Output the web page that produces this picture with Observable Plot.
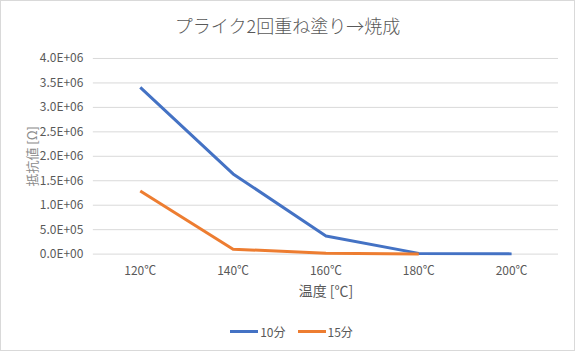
<!DOCTYPE html>
<html>
<head>
<meta charset="utf-8">
<script src="https://cdn.jsdelivr.net/npm/d3@7"></script>
<script src="https://cdn.jsdelivr.net/npm/@observablehq/plot@0.6"></script>
<style>
  html, body { margin: 0; padding: 0; background: #fff; }
  #wrap { position: relative; width: 575px; height: 351px; box-sizing: border-box; border: 1px solid #d9d9d9; overflow: hidden; font-family: "Noto Sans CJK JP", "Noto Sans", sans-serif; }
  #title { position: absolute; left: 0; top: 11px; width: 573px; text-align: center; font-size: 18px; color: #595959; line-height: 26px; font-weight: 300; }
  #chart { position: absolute; left: -1px; top: 39px; }
  #legend { position: absolute; top: 322px; left: 4px; width: 573px; display: flex; justify-content: center; gap: 12px; font-size: 12px; color: #595959; }
  .item { display: flex; align-items: center; }
  .sw { width: 28px; height: 3px; margin-right: 2px; }
</style>
</head>
<body>
<div id="wrap">
  <div id="title">プライク2回重ね塗り→焼成</div>
  <div id="chart"></div>
  <div id="legend"></div>
</div>
<script>
const temps = ["120℃", "140℃", "160℃", "180℃", "200℃"];
const series = ["10分", "15分"];
const values10 = [3.41e6, 1.64e6, 0.37e6, 0.015e6, 0.005e6];
const values15 = [1.29e6, 0.10e6, 0.02e6, 0.002e6];
const yTicks = [0, 5e5, 1e6, 1.5e6, 2e6, 2.5e6, 3e6, 3.5e6, 4e6];
const colors = ["#4472C4", "#ED7D31"];

const data = [
  ...values10.map((v, i) => ({temp: temps[i], value: v, series: series[0]})),
  ...values15.map((v, i) => ({temp: temps[i], value: v, series: series[1]}))
];

function fmt(d) {
  const [m, e] = d.toExponential(1).split("e");
  const sign = e[0] === "-" ? "-" : "+";
  const ex = String(Math.abs(+e)).padStart(2, "0");
  return `${m}E${sign}${ex}`;
}

const chart = Plot.plot({
  width: 575,
  height: 272,
  marginTop: 18,
  marginBottom: 58,
  marginLeft: 93,
  marginRight: 16,
  style: {fontFamily: '"Noto Sans CJK JP", "Noto Sans", sans-serif', fontSize: "12px", color: "#595959", background: "transparent"},
  x: {type: "point", domain: temps, padding: 0.5},
  y: {domain: [0, 4e6], ticks: yTicks},
  color: {domain: series, range: colors},
  marks: [
    Plot.gridY(yTicks, {stroke: "#d9d9d9", strokeOpacity: 1, strokeWidth: 1}),
    Plot.axisY(yTicks, {tickSize: 0, tickPadding: 10, tickFormat: fmt, fill: "#595959", fontSize: 12,
      label: "抵抗値 [Ω]", labelAnchor: "center", labelArrow: "none", labelOffset: 66}),
    Plot.axisX({tickSize: 0, tickPadding: 12, fill: "#595959", fontSize: 12,
      label: "温度 [℃]", labelAnchor: "center", labelArrow: "none", labelOffset: 42}),
    Plot.line(data, {x: "temp", y: "value", z: "series", stroke: "series", strokeWidth: 3, strokeLinejoin: "round", strokeLinecap: "butt"})
  ]
});
document.getElementById("chart").appendChild(chart);

// axis label styling
d3.select(chart).selectAll('[aria-label="y-axis label"] text, [aria-label="y-axis label"]')
  .attr("fill", "#8c8c8c").attr("font-size", 13);
d3.select(chart).selectAll('[aria-label="x-axis label"] text, [aria-label="x-axis label"]')
  .attr("fill", "#595959").attr("font-size", 14);

const legend = document.getElementById("legend");
series.forEach((s, i) => {
  const it = document.createElement("div");
  it.className = "item";
  const sw = document.createElement("div");
  sw.className = "sw";
  sw.style.background = colors[i];
  const t = document.createElement("span");
  t.textContent = s;
  it.appendChild(sw); it.appendChild(t);
  legend.appendChild(it);
});
</script>
</body>
</html>
